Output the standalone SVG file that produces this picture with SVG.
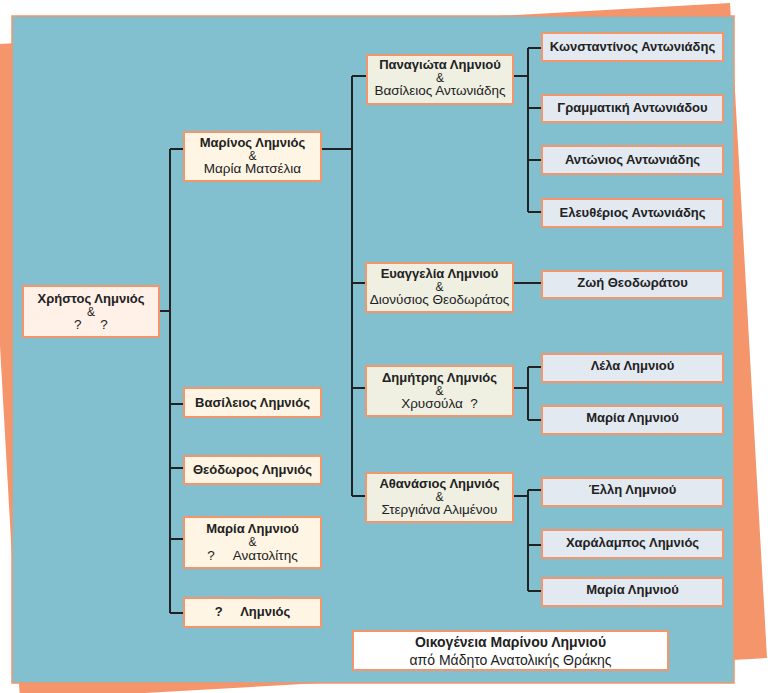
<svg xmlns="http://www.w3.org/2000/svg" width="768" height="693" viewBox="0 0 768 693">
<style>
text{font-family:"Liberation Sans",Arial,sans-serif;fill:#222;text-anchor:middle}
.b{font-weight:bold;font-size:13px}
.n{font-size:13.5px}
.a{font-size:12px}
.t{font-size:14px}
.box{stroke:#F4956A;stroke-width:2}
.f0{fill:#FFF0E8}
.f1{fill:#FFF5E4}
.f2{fill:#F0F0E2}
.f3{fill:#E3E9F1}
.f4{fill:#FFFFFF}
.con{fill:none;stroke:#222;stroke-width:2}
</style>
<polygon points="-17,45 730,3 767,658 20,700" fill="#F5956B"/>
<rect x="12" y="16" width="722" height="667" fill="#82C0CF" stroke="#F4956A" stroke-width="1.5"/>
<g id="connectors" class="con">
<path d="M159,311H170M170,149V613M170,149H184M170,404H184M170,468H184M170,539H184M170,613H184"/>
<path d="M321,149H352M352,76V496M352,76H367M352,283H366M352,388H366M352,496H366"/>
<path d="M513,76H528M528,48V212M528,48H542M528,108H542M528,160H542M528,212H542"/>
<path d="M513,283H542"/>
<path d="M513,388H528M528,367V420M528,367H542M528,420H542"/>
<path d="M513,496H528M528,490V591M528,490H542M528,545H542M528,591H542"/>
</g>
<g id="christos"><rect class="box f0" x="23" y="286" width="136" height="51"/>
<text class="b" x="91" y="303">Χρήστος Λημνιός</text><text class="a" x="91" y="316">&amp;</text><text class="n" x="91" y="329" xml:space="preserve">?     ?</text></g>
<g id="marinos"><rect class="box f1" x="184" y="132" width="137" height="49"/>
<text class="b" x="252.5" y="147">Μαρίνος Λημνιός</text><text class="a" x="252.5" y="160">&amp;</text><text class="n" x="252.5" y="173">Μαρία Ματσέλια</text></g>
<g id="vasileios"><rect class="box f1" x="184" y="388" width="137" height="29"/>
<text class="b" x="252.5" y="407">Βασίλειος Λημνιός</text></g>
<g id="theodoros"><rect class="box f1" x="184" y="456" width="137" height="28"/>
<text class="b" x="252.5" y="474">Θεόδωρος Λημνιός</text></g>
<g id="maria1"><rect class="box f1" x="184" y="517" width="137" height="51"/>
<text class="b" x="252.5" y="533">Μαρία Λημνιού</text><text class="a" x="252.5" y="546">&amp;</text><text class="n" x="252.5" y="560" xml:space="preserve">?     Ανατολίτης</text></g>
<g id="limnios"><rect class="box f1" x="184" y="598" width="137" height="29"/>
<text class="b" x="252.5" y="616" xml:space="preserve">?     Λημνιός</text></g>
<g id="panagiota"><rect class="box f2" x="367" y="55" width="146" height="49"/>
<text class="b" x="440" y="69">Παναγιώτα Λημνιού</text><text class="a" x="440" y="82">&amp;</text><text class="n" x="440" y="95">Βασίλειος Αντωνιάδης</text></g>
<g id="evangelia"><rect class="box f2" x="366" y="263" width="147" height="49"/>
<text class="b" x="439.5" y="278">Ευαγγελία Λημνιού</text><text class="a" x="439.5" y="291">&amp;</text><text class="n" x="439.5" y="304">Διονύσιος Θεοδωράτος</text></g>
<g id="dimitris"><rect class="box f2" x="366" y="366" width="147" height="50"/>
<text class="b" x="439.5" y="382">Δημήτρης Λημνιός</text><text class="a" x="439.5" y="395">&amp;</text><text class="n" x="439.5" y="408" xml:space="preserve">Χρυσούλα  ?</text></g>
<g id="athanasios"><rect class="box f2" x="366" y="473" width="147" height="49"/>
<text class="b" x="439.5" y="488">Αθανάσιος Λημνιός</text><text class="a" x="439.5" y="501">&amp;</text><text class="n" x="439.5" y="514">Στεργιάνα Αλιμένου</text></g>
<g id="konstantinos"><rect class="box f3" x="542" y="33" width="181" height="28"/>
<text class="b" x="632.5" y="51">Κωνσταντίνος Αντωνιάδης</text></g>
<g id="grammatiki"><rect class="box f3" x="542" y="95" width="181" height="27"/>
<text class="b" x="632.5" y="112">Γραμματική Αντωνιάδου</text></g>
<g id="antonios"><rect class="box f3" x="542" y="146" width="181" height="28"/>
<text class="b" x="632.5" y="164">Αντώνιος Αντωνιάδης</text></g>
<g id="eleftherios"><rect class="box f3" x="542" y="199" width="181" height="28"/>
<text class="b" x="632.5" y="217">Ελευθέριος Αντωνιάδης</text></g>
<g id="zoi"><rect class="box f3" x="542" y="271" width="181" height="27"/>
<text class="b" x="632.5" y="287">Ζωή Θεοδωράτου</text></g>
<g id="lela"><rect class="box f3" x="542" y="354" width="181" height="28"/>
<text class="b" x="632.5" y="370">Λέλα Λημνιού</text></g>
<g id="maria2"><rect class="box f3" x="542" y="406" width="181" height="28"/>
<text class="b" x="632.5" y="422">Μαρία Λημνιού</text></g>
<g id="elli"><rect class="box f3" x="542" y="478" width="181" height="28"/>
<text class="b" x="632.5" y="494">Έλλη Λημνιού</text></g>
<g id="charalampos"><rect class="box f3" x="542" y="530" width="181" height="28"/>
<text class="b" x="632.5" y="547">Χαράλαμπος Λημνιός</text></g>
<g id="maria3"><rect class="box f3" x="542" y="578" width="181" height="28"/>
<text class="b" x="632.5" y="594">Μαρία Λημνιού</text></g>
<g id="title"><rect class="box f4" x="353" y="631" width="315" height="39"/>
<text class="b t" x="510.5" y="647">Οικογένεια Μαρίνου Λημνιού</text><text class="t" x="510.5" y="665">από Μάδητο Ανατολικής Θράκης</text></g>
</svg>
